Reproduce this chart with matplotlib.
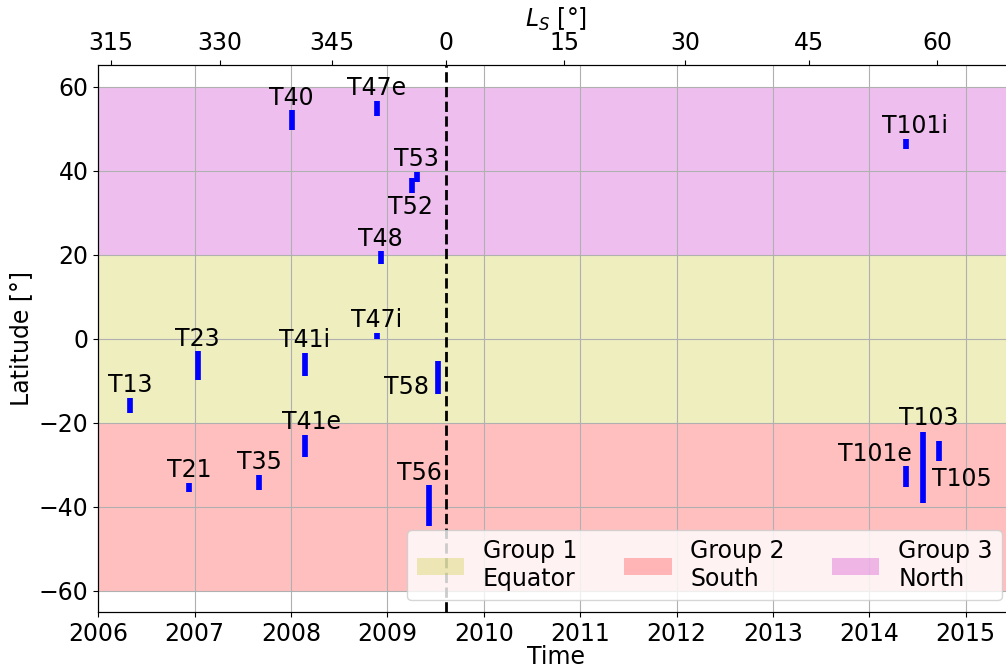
import matplotlib
matplotlib.use("Agg")
import matplotlib.pyplot as plt

# ---- data ----
names = ['T13', 'T21', 'T23', 'T35', 'T40', 'T41i', 'T41e', 'T47i', 'T47e',
         'T48', 'T52', 'T53', 'T56', 'T58', 'T101i', 'T101e', 'T103', 'T105']
years = [2006.327, 2006.939, 2007.032, 2007.668, 2008.006, 2008.145, 2008.145,
         2008.888, 2008.888, 2008.931, 2009.251, 2009.303, 2009.427, 2009.520,
         2014.375, 2014.375, 2014.551, 2014.727]
lat_min = [-17.7, -36.5, -9.9, -36.1, 49.7, -8.9, -28.2, -0.1, 53.0,
           17.8, 34.7, 37.3, -44.6, -13.2, 45.1, -35.3, -39.1, -29.1]
lat_max = [-14.0, -34.2, -3.0, -32.3, 54.4, -3.3, -22.8, 1.5, 56.7,
           20.8, 38.2, 39.8, -34.9, -5.2, 47.7, -30.2, -22.1, -24.2]

equinox_year = 2009.609

ls_tick_labels = [315, 330, 345, 0, 15, 30, 45, 60]
ls_tick_years = [2006.132, 2007.265, 2008.420, 2009.609, 2010.832,
                 2012.087, 2013.373, 2014.700]

year_ticks = list(range(2006, 2016))
lat_ticks = [-60, -40, -20, 0, 20, 40, 60]

groups = ['Group 1\nEquator', 'Group 2\nSouth', 'Group 3\nNorth']
group_bounds = [(-20, 20), (-60, -20), (20, 60)]
group_colors = ['y', 'r', 'm']

# ---- label placement (style) ----
# (anchor, dx_px, dy_px, ha)
label_style = {
    'T41e': ('top', 6, 5.5, 'center'),
    'T56': ('top', -9, 5.5, 'center'),
    'T101i': ('top', 9, 5.5, 'center'),
    'T103': ('top', 6, 7, 'center'),
    'T52': ('bottom', -1.5, -21.3, 'center'),
    'T58': ('bottom', -8.5, 0.5, 'right'),
    'T101e': ('top', 6.7, 4.3, 'right'),
    'T105': ('bottom', -7.3, -25, 'left'),
}

FS = 17
plt.rcParams['font.size'] = FS

fig = plt.figure(figsize=(10.06, 6.69), dpi=100)
ax = fig.add_axes([98.3 / 1006, 1 - 612.3 / 669, (1014 - 98.3) / 1006, (612.3 - 65) / 669])

for lab, (lo, hi), c in zip(groups, group_bounds, group_colors):
    ax.axhspan(lo, hi, color=c, alpha=0.25, lw=0, label=lab, zorder=1)

ax.vlines(years, lat_min, lat_max, colors='b', lw=4.1, zorder=3)

for n, x, lo, hi in zip(names, years, lat_min, lat_max):
    anchor, dx, dy, ha = label_style.get(n, ('top', 0, 5.5, 'center'))
    y = hi if anchor == 'top' else lo
    ax.annotate(n, xy=(x, y), xytext=(dx, dy), textcoords='offset pixels',
                ha=ha, va='baseline', fontsize=FS, zorder=4)

ax.axvline(equinox_year, color='k', ls='--', lw=2, zorder=3)

ax.set_xlim(2006.0, 2015.5)
ax.set_ylim(-65.1, 65.2)
ax.set_xticks(year_ticks)
ax.set_xticklabels([str(y) for y in year_ticks])
ax.set_yticks(lat_ticks)
ax.grid(True, zorder=2)
ax.set_xlabel('Time', labelpad=-1)
ax.set_ylabel('Latitude [°]')

ax.legend(loc='lower right', ncol=3, fontsize=FS)

ax2 = ax.twiny()
ax2.set_xlim(ax.get_xlim())
ax2.set_xticks(ls_tick_years)
ax2.set_xticklabels([str(v) for v in ls_tick_labels])
ax2.set_xlabel('$L_S$ [°]', labelpad=3)

fig.savefig('out.png', dpi=100)
